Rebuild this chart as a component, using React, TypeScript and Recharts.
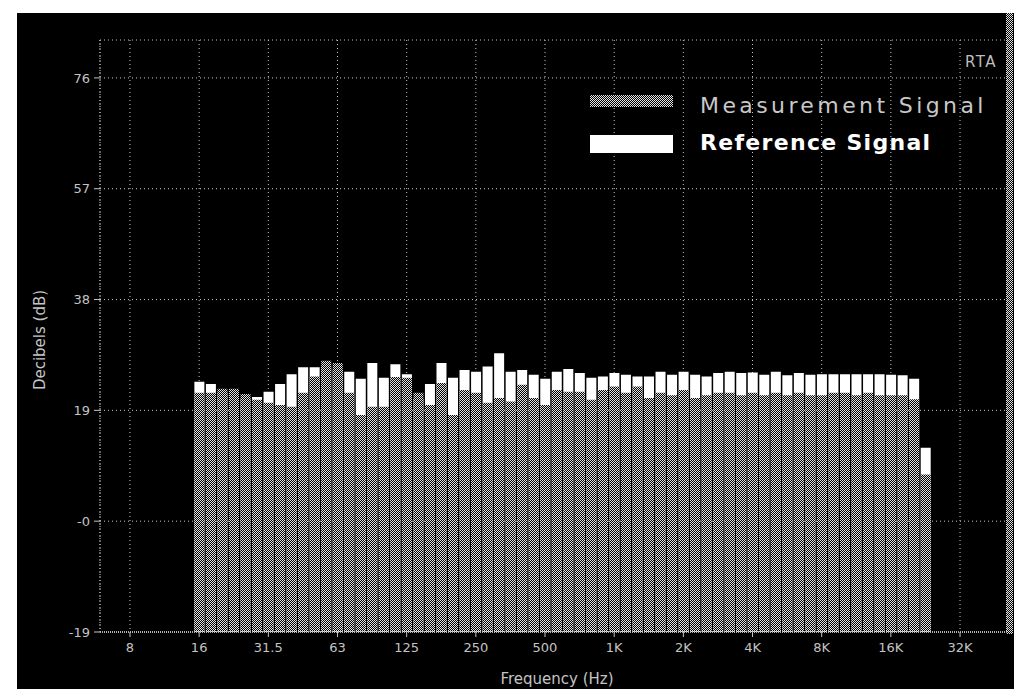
import { ComposedChart, Bar, XAxis, YAxis, CartesianGrid } from "recharts";

// 1/6-octave bands, band 0 = 16 Hz
const measurement = [
  22.0, 22.0, 22.7, 22.7, 21.8, 20.8, 20.3, 19.9, 19.6, 22.0, 24.8, 27.5, 27.1, 22.0, 18.2, 19.6,
  19.6, 24.7, 24.6, 22.0, 19.9, 23.7, 18.2, 22.5, 22.0, 20.3, 21.1, 20.5, 23.4, 21.1, 19.9, 22.5,
  22.2, 22.2, 20.8, 22.5, 23.1, 22.0, 23.1, 21.1, 22.0, 21.6, 22.5, 21.1, 21.6, 22.0, 22.0, 21.6,
  22.0, 21.6, 22.0, 21.6, 22.0, 21.6, 21.6, 22.0, 22.0, 21.6, 22.0, 21.6, 21.6, 21.6, 20.9, 8.0,
];
const reference = [
  23.9, 23.5, 22.0, 22.0, 21.0, 21.3, 22.2, 23.5, 25.2, 26.4, 26.4, 26.5, 26.0, 25.6, 24.4, 27.1,
  24.6, 26.9, 25.2, 21.0, 23.5, 27.1, 24.6, 25.9, 25.6, 26.5, 28.8, 25.6, 25.9, 25.1, 24.4, 25.6,
  26.1, 25.4, 24.6, 24.8, 25.4, 25.1, 24.8, 24.8, 25.6, 25.1, 25.6, 25.1, 24.8, 25.4, 25.6, 25.4,
  25.5, 25.1, 25.6, 25.0, 25.4, 25.1, 25.2, 25.2, 25.2, 25.2, 25.2, 25.2, 25.1, 25.0, 24.4, 12.6,
];
const freqLabels = ["8", "16", "31.5", "63", "125", "250", "500", "1K", "2K", "4K", "8K", "16K", "32K"];
const yTicks = [-19, 0, 19, 38, 57, 76];

const FLOOR = -19;
const BANDS_PER_OCT = 6;

const data = measurement.map((m, i) => ({ band: i, meas: m, refSig: reference[i] }));
const xTicks = freqLabels.map((_, i) => (i - 1) * BANDS_PER_OCT);
const labelAt = (v: number) => freqLabels[v / BANDS_PER_OCT + 1] ?? "";

const dither = "repeating-conic-gradient(#e4e4e4 0 25%, #000 0 50%) 0 0 / 2px 2px";
const tickStyle = { fill: "#c4c4c4", fontSize: 13, fontFamily: "DejaVu Sans" };

export default function App() {
  return (
    <div style={{ position: "absolute", left: 0, top: 0, width: 1014, height: 689, background: "#fff" }}>
      <div style={{ position: "absolute", left: 17, top: 13, right: 0, bottom: 0, background: "#000" }} />
      <div style={{ position: "absolute", left: 1006, top: 13, width: 7, height: 621, background: dither }} />
      <div style={{ position: "absolute", left: 0, top: 0 }}>
        <ComposedChart
          width={1014}
          height={689}
          data={data}
          margin={{ top: 40, right: 6, bottom: 0, left: 0 }}
        >
          <defs>
            <pattern id="dither" width="2" height="2" patternUnits="userSpaceOnUse">
              <rect width="2" height="2" fill="#000" />
              <rect x="0" y="0" width="1" height="1" fill="#e4e4e4" />
              <rect x="1" y="1" width="1" height="1" fill="#e4e4e4" />
            </pattern>
          </defs>
          <CartesianGrid xAxisId="a" stroke="#c8c8c8" strokeDasharray="1 3" />
          <XAxis
            xAxisId="a"
            type="number"
            dataKey="band"
            domain={[-8.6, 70.16]}
            ticks={xTicks}
            tickFormatter={labelAt}
            height={57}
            tick={tickStyle}
            tickSize={5}
            tickMargin={6}
            axisLine={{ stroke: "#b0b0b0", strokeWidth: 2, strokeDasharray: "1 1" }}
            tickLine={{ stroke: "#c4c4c4" }}
            allowDataOverflow
          />
          <XAxis xAxisId="b" type="number" dataKey="band" domain={[-8.6, 70.16]} hide allowDataOverflow />
          <YAxis
            type="number"
            domain={[FLOOR, 82.5]}
            ticks={yTicks}
            tickFormatter={(v: number) => (v === 0 ? "-0" : String(v))}
            width={100}
            tick={tickStyle}
            tickSize={6}
            tickMargin={4}
            axisLine={{ stroke: "#c4c4c4", strokeDasharray: "1 2" }}
            tickLine={{ stroke: "#c4c4c4" }}
            allowDataOverflow
          />
          <Bar
            xAxisId="a"
            dataKey={(d: any) => [FLOOR, d.refSig]}
            fill="#ffffff"
            barSize={10}
            isAnimationActive={false}
          />
          <Bar
            xAxisId="b"
            dataKey={(d: any) => [FLOOR, d.meas]}
            fill="url(#dither)"
            barSize={10}
            isAnimationActive={false}
          />
        </ComposedChart>
      </div>
      <svg width={1014} height={689} style={{ position: "absolute", left: 0, top: 0, pointerEvents: "none" }}>
        <defs>
          <pattern id="dither2" width="2" height="2" patternUnits="userSpaceOnUse">
            <rect width="2" height="2" fill="#000" />
            <rect x="0" y="0" width="1" height="1" fill="#e4e4e4" />
            <rect x="1" y="1" width="1" height="1" fill="#e4e4e4" />
          </pattern>
        </defs>
        <text x={997} y={67} textAnchor="end" fill="#bdbdbd" fontSize={15} fontFamily="DejaVu Sans" letterSpacing={1.5}>
          RTA
        </text>
        <rect x={590} y={95} width={83} height={12} fill="url(#dither2)" />
        <text x={700} y={113} fill="#c8c8c8" fontSize={22} fontFamily="DejaVu Sans" letterSpacing={3.4}>
          Measurement Signal
        </text>
        <rect x={590} y={135} width={83} height={18} fill="#fff" />
        <text x={700} y={150} fill="#fff" fontSize={22} fontWeight="bold" fontFamily="DejaVu Sans" letterSpacing={1.3}>
          Reference Signal
        </text>
        <text
          x={40}
          y={340}
          transform="rotate(-90 40 340)"
          textAnchor="middle"
          dominantBaseline="central"
          fill="#c4c4c4"
          fontSize={15}
          fontFamily="DejaVu Sans"
        >
          Decibels (dB)
        </text>
        <text x={557} y={684} textAnchor="middle" fill="#c4c4c4" fontSize={15} fontFamily="DejaVu Sans">
          Frequency (Hz)
        </text>
      </svg>
    </div>
  );
}
